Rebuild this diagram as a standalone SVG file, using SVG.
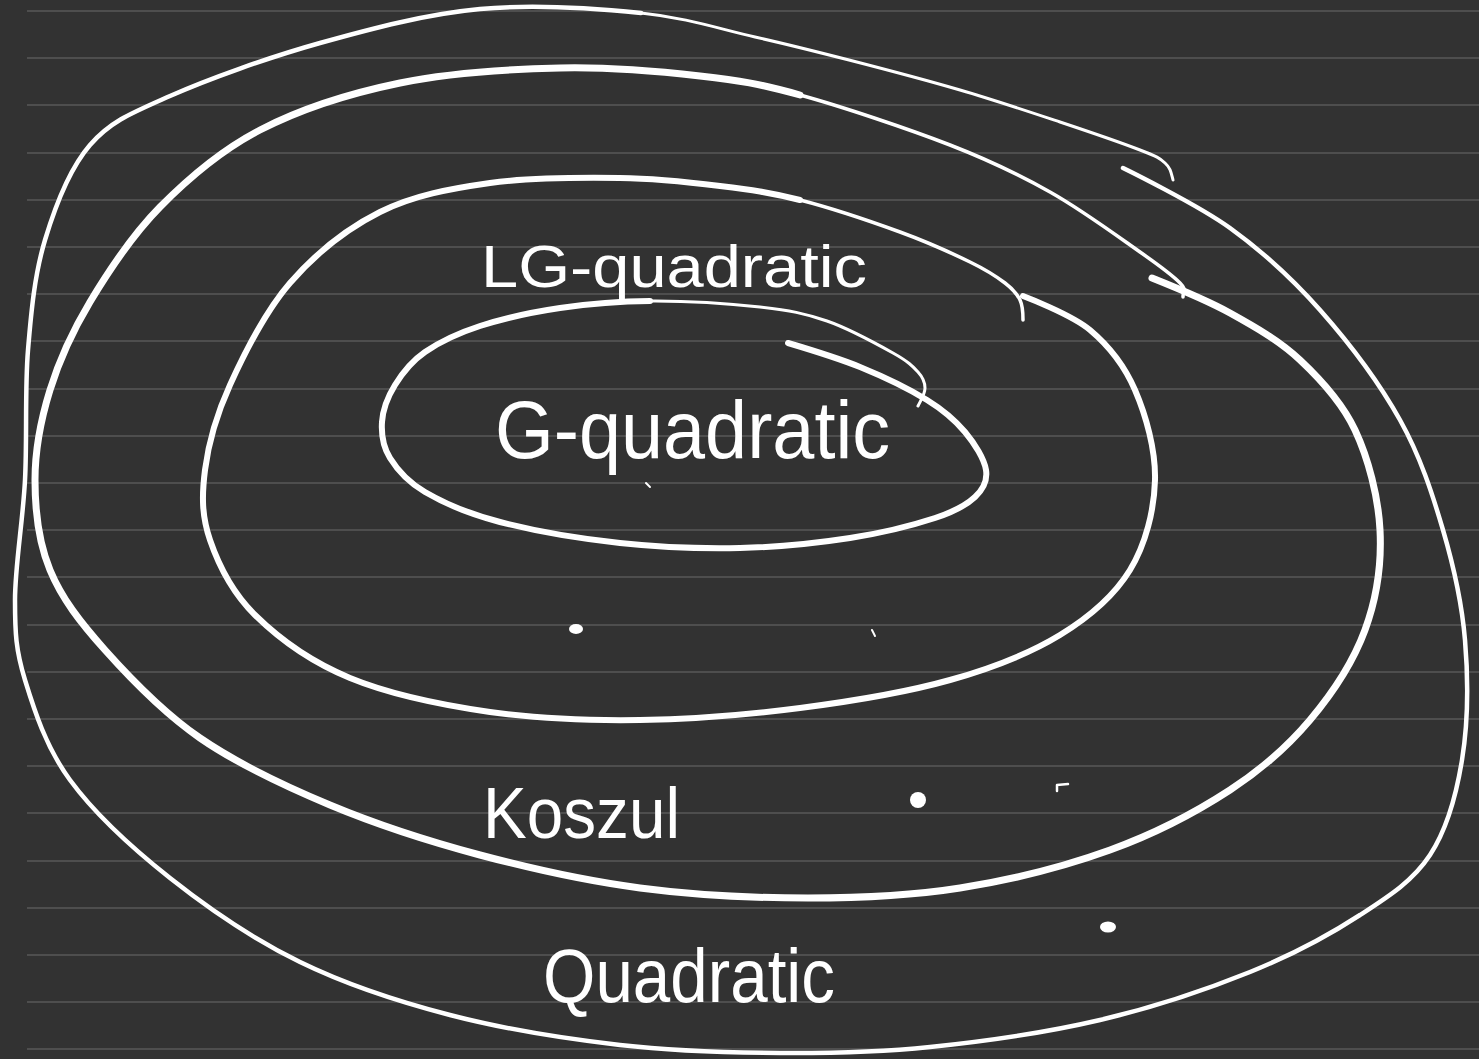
<svg xmlns="http://www.w3.org/2000/svg" width="1479" height="1059" viewBox="0 0 1479 1059">
<style>
.rule{stroke:#4e4e4e;stroke-width:2}
.ring{fill:none;stroke:#ffffff;stroke-linecap:round;stroke-linejoin:round}
.lbl{fill:#ffffff;font-family:"Liberation Sans","DejaVu Sans",sans-serif}
.dot{fill:#ffffff}
</style>
<rect x="0" y="0" width="1479" height="1059" fill="#323232"/>
<g id="ruling">
<line class="rule" x1="27" y1="11" x2="1479" y2="11"/>
<line class="rule" x1="27" y1="58" x2="1479" y2="58"/>
<line class="rule" x1="27" y1="105" x2="1479" y2="105"/>
<line class="rule" x1="27" y1="153" x2="1479" y2="153"/>
<line class="rule" x1="27" y1="200" x2="1479" y2="200"/>
<line class="rule" x1="27" y1="247" x2="1479" y2="247"/>
<line class="rule" x1="27" y1="294" x2="1479" y2="294"/>
<line class="rule" x1="27" y1="341" x2="1479" y2="341"/>
<line class="rule" x1="27" y1="389" x2="1479" y2="389"/>
<line class="rule" x1="27" y1="436" x2="1479" y2="436"/>
<line class="rule" x1="27" y1="483" x2="1479" y2="483"/>
<line class="rule" x1="27" y1="530" x2="1479" y2="530"/>
<line class="rule" x1="27" y1="577" x2="1479" y2="577"/>
<line class="rule" x1="27" y1="625" x2="1479" y2="625"/>
<line class="rule" x1="27" y1="672" x2="1479" y2="672"/>
<line class="rule" x1="27" y1="719" x2="1479" y2="719"/>
<line class="rule" x1="27" y1="766" x2="1479" y2="766"/>
<line class="rule" x1="27" y1="813" x2="1479" y2="813"/>
<line class="rule" x1="27" y1="861" x2="1479" y2="861"/>
<line class="rule" x1="27" y1="908" x2="1479" y2="908"/>
<line class="rule" x1="27" y1="955" x2="1479" y2="955"/>
<line class="rule" x1="27" y1="1002" x2="1479" y2="1002"/>
<line class="rule" x1="27" y1="1049" x2="1479" y2="1049"/>
</g>
<g id="connectors"></g>
<g id="quadratic">
<path class="ring" stroke-width="4.5" d="M1123,168 S1197.2,204.3 1230,228 S1291.7,278 1320,310 S1379.5,383.3 1400,420 S1432.2,493.3 1443,530 S1461.8,601.7 1465,640 S1467.8,724.2 1462,760 S1447,829.2 1430,855 S1390,895.5 1360,915 S1293.3,954.5 1250,972 S1153.3,1007.5 1100,1020 S983.3,1041.5 930,1047 S831.7,1053.3 780,1053 S675,1051.3 620,1045 S503.3,1028.8 450,1015 S346.7,984.8 300,962 S208.3,908.3 170,878 S94.2,813 70,780 S34.2,710 25,680 S15,633.3 15,600 S22.8,521.7 25,480 S24.7,390 28,350 S34.7,274.2 45,240 S69.2,169 90,145 S131.7,113 170,96 S268.3,57.5 320,43 S426.5,14 480,9 S595.2,8.3 641,13"/>
<path class="ring" stroke-width="3" d="M641,13 C686.8,17.7 720.3,29.2 755,37 S814.8,51.2 849,60 S924.8,79.7 960,90 S1030,112 1060,122 S1122.5,143.2 1140,150 S1159.5,158 1165,163 S1171,172 1173,180"/>
<text class="lbl" x="543" y="1002" font-size="76" textLength="292" lengthAdjust="spacingAndGlyphs">Quadratic</text>
</g>
<g id="koszul">
<path class="ring" stroke-width="7" d="M1152,278 S1205.3,299.3 1230,313 S1279.2,340.5 1300,360 S1341.7,401.7 1355,430 S1378.3,496.7 1380,530 S1376.7,598.3 1365,630 S1332.5,693.3 1310,720 S1263.3,768.3 1230,790 S1155,833.7 1110,850 S1010.3,880 960,888 S861.3,898 808,898 S694.7,895.2 640,888 S531.7,868.8 480,855 S376.7,824.5 330,805 S237.5,763.8 200,738 S130,678 105,650 S61.7,598.3 50,570 S35,510 35,480 S40.8,419.7 50,390 S71.7,332.5 90,302 S131.7,235.7 160,207 S220,150.7 260,130 S350,93.3 400,83 S510,69.2 560,68 S660,71.5 700,76 S758.3,83.5 800,95"/>
<path class="ring" stroke-width="3.5" d="M800,95 C841.7,106.5 908.3,128.8 950,145 S1018.3,174.2 1050,192 S1118.3,236.8 1140,252 S1172.8,275.5 1180,283 S1183,290 1183,297"/>
<text class="lbl" x="483" y="838" font-size="72" textLength="197" lengthAdjust="spacingAndGlyphs">Koszul</text>
</g>
<g id="lg-quadratic">
<path class="ring" stroke-width="6" d="M1023,296 S1071.3,314.3 1090,330 S1124.2,365 1135,390 S1155.8,450 1155,480 S1145.8,544.2 1130,570 S1090,616.7 1060,635 S993.3,667.8 950,680 S851.7,701.3 800,708 S691.7,719.3 640,720 S538.3,719 490,712 S389.2,694.2 350,678 S278.3,638 255,615 S218.3,564.2 210,540 S201.7,495.8 205,470 S215.8,416.2 230,385 S265,311.8 290,283 S346.7,228.7 380,212 S450,188.7 490,183 S581.7,177.5 620,178 S690,182.3 720,186 S770,192.3 800,200"/>
<path class="ring" stroke-width="3.5" d="M800,200 C830,207.7 871.7,221.7 900,232 S952.5,253.5 970,262 S996.7,276.7 1005,283 S1017,293.8 1020,300 S1023,312 1023,320"/>
<text class="lbl" x="481" y="287" font-size="60" textLength="386" lengthAdjust="spacingAndGlyphs">LG-quadratic</text>
</g>
<g id="g-quadratic">
<path class="ring" stroke-width="6" d="M788,343 S836.8,357.5 860,367 S909.5,389.2 927,400 S955.2,420.3 965,432 S984.3,459.2 986,470 S983.5,489 975,497 S955.8,511.2 935,518 S882.5,533 850,538 S778.3,547.2 740,548 S660,547.3 620,543 S532.5,530.5 500,522 S443.3,502.7 425,492 S397.2,469.7 390,458 S381.2,434.2 382,422 S387.8,396.7 395,385 S410.8,361.8 425,352 S457.5,333.3 480,326 S531.7,312.2 560,308 S616.7,301.2 650,301"/>
<path class="ring" stroke-width="3" d="M650,301 C683.3,300.8 730.5,303.7 760,307 S804.8,313.3 827,321 S877.8,344.5 893,353 S912.7,366.2 918,372 S925,382.3 925,388 S922,398 918,406"/>
<text class="lbl" x="495" y="458" font-size="82" textLength="395" lengthAdjust="spacingAndGlyphs">G-quadratic</text>
</g>
<g id="marks">
<ellipse class="dot" cx="576" cy="629" rx="7" ry="5"/>
<ellipse class="dot" cx="918" cy="800" rx="8" ry="8"/>
<ellipse class="dot" cx="1108" cy="927" rx="8" ry="5.5"/>
<path class="ring" stroke-width="2" d="M872,630 L875,636"/>
<path class="ring" stroke-width="2.5" d="M1057,791 L1057,785 L1068,784"/>
<path class="ring" stroke-width="2" d="M646,483 L650,487"/>
</g>
</svg>
